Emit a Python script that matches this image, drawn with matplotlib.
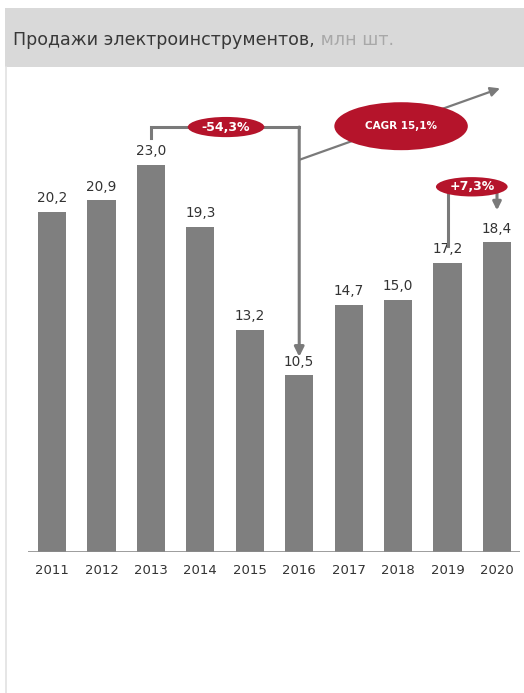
import matplotlib.pyplot as plt
from matplotlib.patches import Ellipse, Rectangle
from matplotlib.lines import Line2D

years = ["2011", "2012", "2013", "2014", "2015", "2016", "2017", "2018", "2019", "2020"]
sales = [20.2, 20.9, 23.0, 19.3, 13.2, 10.5, 14.7, 15.0, 17.2, 18.4]
title_main = "Продажи электроинструментов,"
title_unit = " млн шт."
drop_label = "-54,3%"
cagr_label = "CAGR 15,1%"
growth_label = "+7,3%"

W, H = 524, 693
red = "#b5142b"
line_gray = "#7a7a7a"
bar_gray = "#7f7f7f"
text_col = "#333333"

fig = plt.figure(figsize=(W / 100, H / 100), dpi=100)
fig.patch.set_facecolor("white")

# header band and left border
fig.patches.append(Rectangle((5 / W, 1 - 67 / H), 1, 59 / H, transform=fig.transFigure,
                             facecolor="#d9d9d9", edgecolor="none"))
fig.lines.append(Line2D([6 / W, 6 / W], [0, 1 - 67 / H], transform=fig.transFigure,
                        color="#e2e2e2", lw=1.2))
t = fig.text(13 / W, 1 - 40 / H, title_main, fontsize=12.6, color="#383838",
             va="center", ha="left")
fig.canvas.draw()
bb = t.get_window_extent()
fig.text(bb.x1 / W, 1 - 40 / H, title_unit, fontsize=12.6, color="#a8a8a8",
         va="center", ha="left")

# axes placed so that bars land at the reference pixel positions
px_per_bar = 49.44
px_per_unit = 16.83
left_px, right_px, base_px, top_px = 28, 520, 552, 60
ax = fig.add_axes([left_px / W, 1 - base_px / H, (right_px - left_px) / W, (base_px - top_px) / H])
ax.set_xlim(-(52 - left_px) / px_per_bar, 9 + (right_px - 497) / px_per_bar)
ax.set_ylim(0, (base_px - top_px) / px_per_unit)
ax.axis("off")

x = list(range(len(years)))
ax.bar(x, sales, width=0.57, color=bar_gray, zorder=2)
ax.axhline(0, color="#8c8c8c", lw=1.2, zorder=3)
for i, v in enumerate(sales):
    ax.text(i, v + 0.4, f"{v:.1f}".replace(".", ","), ha="center", va="bottom",
            fontsize=9.8, color=text_col)
    ax.text(i, -0.7, years[i], ha="center", va="top", fontsize=9.5, color=text_col)

lw = 2.2
# -54,3% bracket from 2013 to 2016
y_br = 25.25
ax.plot([2, 2, 5], [24.6, y_br, y_br], color=line_gray, lw=lw, solid_joinstyle="miter", zorder=4)
ax.annotate("", xy=(5, 11.6), xytext=(5, y_br),
            arrowprops=dict(arrowstyle="-|>", color=line_gray, lw=lw, mutation_scale=14,
                            shrinkA=0, shrinkB=0), zorder=4)
ax.add_patch(Ellipse((3.52, y_br), 1.55, 1.2, facecolor=red, edgecolor="none", zorder=5))
ax.text(3.52, y_br, drop_label, ha="center", va="center", fontsize=9, color="white",
        fontweight="bold", zorder=6)

# CAGR trend arrow
ax.annotate("", xy=(9.06, 27.55), xytext=(5, 23.3),
            arrowprops=dict(arrowstyle="-|>", color=line_gray, lw=1.6, mutation_scale=14,
                            shrinkA=0, shrinkB=0), zorder=4)
ax.add_patch(Ellipse((7.06, 25.3), 2.7, 2.85, facecolor=red, edgecolor="none", zorder=5))
ax.text(7.06, 25.3, cagr_label, ha="center", va="center", fontsize=7.5, color="white",
        fontweight="bold", zorder=6)

# +7,3% bracket from 2019 to 2020
y_g = 21.7
ax.plot([8, 8, 9], [18.2, y_g, y_g], color=line_gray, lw=lw, zorder=4)
ax.annotate("", xy=(9, 20.3), xytext=(9, y_g),
            arrowprops=dict(arrowstyle="-|>", color=line_gray, lw=lw, mutation_scale=12,
                            shrinkA=0, shrinkB=0), zorder=4)
ax.add_patch(Ellipse((8.49, y_g), 1.45, 1.15, facecolor=red, edgecolor="none", zorder=5))
ax.text(8.49, y_g, growth_label, ha="center", va="center", fontsize=9, color="white",
        fontweight="bold", zorder=6)

fig.savefig("out.png", dpi=100)
